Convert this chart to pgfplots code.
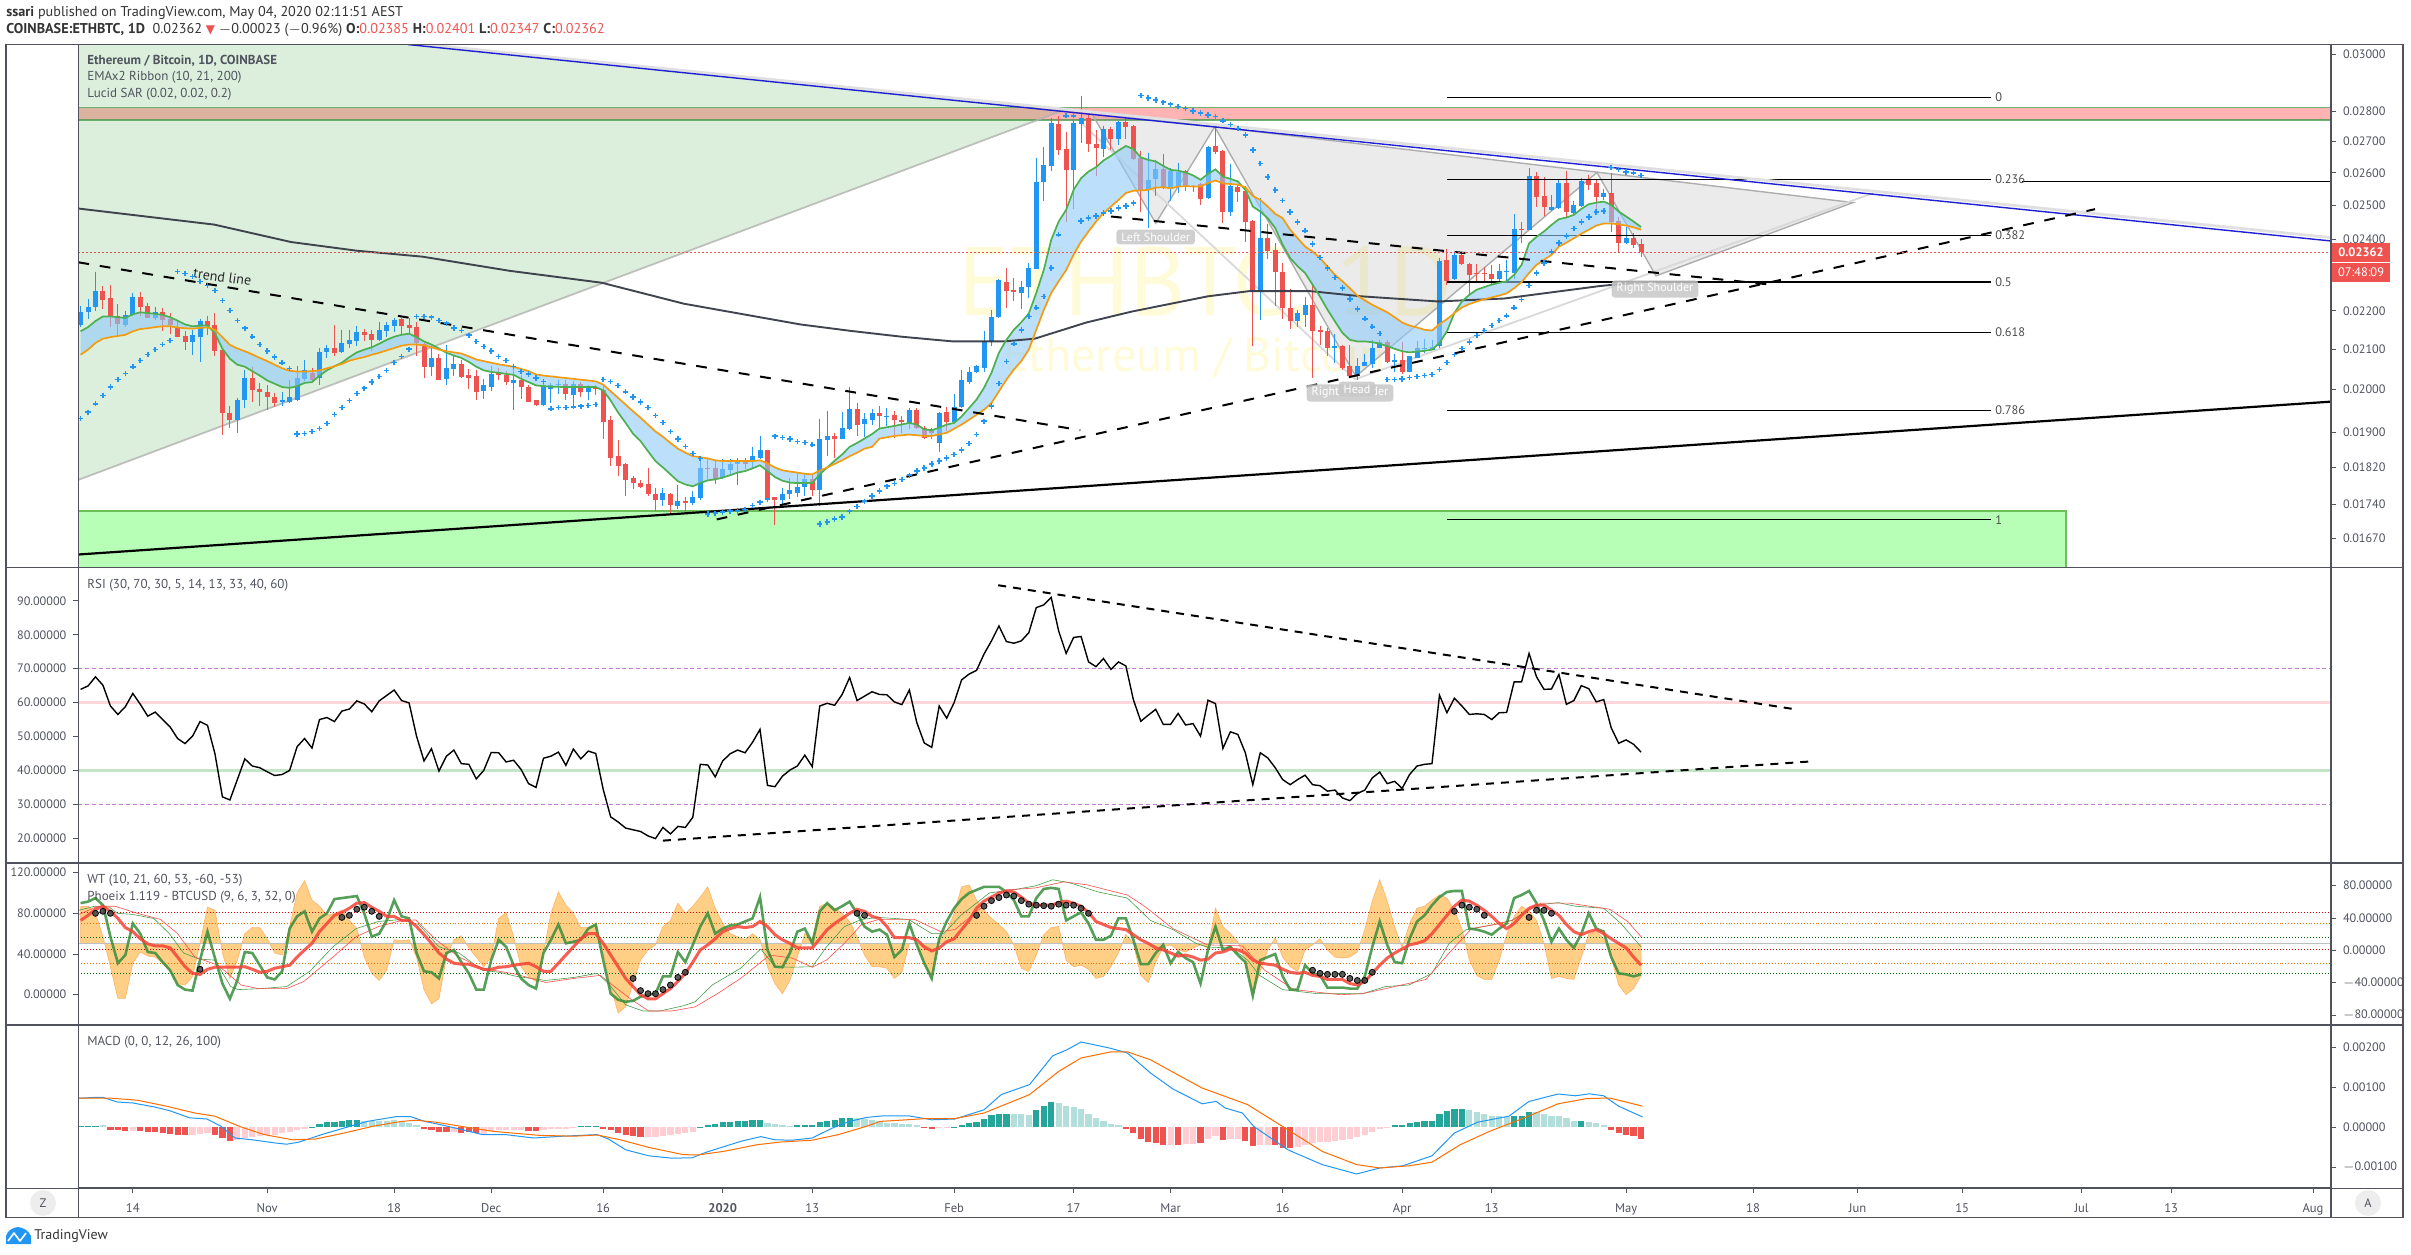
\documentclass[border=0pt]{standalone}
\usepackage{pgfplots}
\usepackage{pgfplotstable}
\usepackage{fontspec}
\pgfplotsset{compat=1.18}
\setmainfont{PT Sans}
\newfontfamily\dejavu{DejaVu Sans}
\definecolor{cUp}{HTML}{2196F3}
\definecolor{cDn}{HTML}{EF5350}
\definecolor{cFrame}{HTML}{50535E}
\definecolor{cTxt}{HTML}{50535E}
\definecolor{cGreen}{HTML}{4CAF50}
\definecolor{cOrange}{HTML}{F39C12}
\definecolor{cDark}{HTML}{363A45}
\definecolor{cTeal}{HTML}{26A69A}
\definecolor{cLTeal}{HTML}{B2DFDB}
\definecolor{cPink}{HTML}{FFCDD2}
\definecolor{cWM}{HTML}{FFFBD8}
\definecolor{cAmber}{HTML}{FFCC80}
\definecolor{cZoneR}{HTML}{FFB3B3}
\definecolor{cZoneG}{HTML}{B7FFB7}
\definecolor{cZoneGE}{HTML}{6EBF5A}
\definecolor{cRib}{HTML}{90CAF9}
\definecolor{cBlueLn}{HTML}{1E1ED2}
\definecolor{cDot}{HTML}{EF5350}
\definecolor{cRsiR}{HTML}{FFCDD2}
\definecolor{cRsiG}{HTML}{A5D6A7}
\definecolor{cRsiP}{HTML}{C37DD7}
\definecolor{cWtG}{HTML}{388E3C}
\definecolor{cWtR}{HTML}{F44336}
\definecolor{cSig}{HTML}{FF6D00}
\pgfplotstableread[row sep=\\]{d o h l c\\
-7 2163 2212 2157 2198\\ -6 2198 2232 2179 2211\\ -5 2209 2306 2200 2252\\ -1 2163 2200 2158 2190\\ 0 2190 2248 2185 2238\\ 3 2182 2210 2176 2197\\ 8 2119 2150 2086 2137\\ 9 2132 2179 2067 2173\\
14 1928 1980 1898 1976\\ 15 1974 2047 1957 2029\\ 20 1970 1994 1962 1974\\ 21 1971 2024 1969 1981\\ 22 1976 2058 1973 2029\\ 23 2026 2074 2021 2049\\ 25 2027 2102 2012 2094\\ 26 2092 2112 2078 2102\\ 28 2092 2150 2090 2117\\ 29 2114 2150 2104 2124\\ 30 2122 2160 2109 2145\\ 33 2124 2171 2122 2150\\ 34 2147 2171 2132 2163\\ 35 2160 2180 2145 2176\\ 40 2056 2111 2034 2079\\ 42 2026 2111 2012 2054\\ 43 2051 2082 2034 2064\\
47 1996 2026 1978 2010\\ 48 2007 2057 1996 2039\\ 51 2017 2062 1952 2024\\ 55 1964 2016 1962 2012\\ 56 2002 2016 1968 2010\\ 57 2010 2024 1990 2014\\ 59 1988 2020 1964 2014\\ 61 1995 2012 1974 2005\\ 71 1749 1776 1737 1764\\ 73 1737 1781 1730 1747\\ 75 1743 1768 1740 1755\\ 76 1753 1842 1749 1820\\ 79 1798 1838 1794 1816\\ 80 1814 1838 1803 1827\\ 81 1827 1842 1781 1834\\ 83 1834 1866 1816 1845\\ 84 1842 1890 1838 1860\\ 87 1749 1776 1732 1762\\ 88 1762 1796 1751 1772\\ 89 1765 1809 1755 1778\\ 90 1778 1809 1758 1794\\ 92 1772 1931 1738 1883\\ 93 1881 1948 1845 1890\\ 95 1885 1946 1883 1910\\ 96 1907 2005 1905 1954\\ 98 1919 1943 1888 1931\\ 99 1929 1954 1917 1943\\
101 1934 1956 1914 1936\\ 104 1921 1956 1906 1952\\ 108 1875 1946 1855 1944\\ 110 1924 1990 1923 1959\\ 111 1958 2047 1956 2024\\ 112 2018 2056 2014 2044\\ 113 2042 2061 2041 2058\\ 114 2054 2148 2043 2122\\ 115 2119 2202 2107 2184\\ 116 2184 2285 2181 2283\\ 119 2249 2282 2205 2265\\ 120 2265 2331 2235 2317\\ 121 2314 2648 2314 2572\\ 122 2572 2683 2513 2625\\ 123 2622 2778 2606 2763\\ 126 2609 2775 2489 2763\\ 127 2758 2855 2696 2778\\ 130 2677 2752 2651 2742\\ 132 2709 2768 2689 2765\\ 136 2548 2664 2433 2578\\ 137 2581 2641 2529 2612\\ 139 2550 2614 2513 2606\\ 140 2558 2632 2538 2603\\ 142 2556 2563 2539 2560\\ 144 2522 2686 2519 2683\\ 147 2480 2629 2468 2560\\ 151 2254 2522 2176 2403\\
156 2174 2203 2158 2195\\ 157 2190 2238 2158 2216\\ 161 2103 2138 2066 2107\\ 164 2034 2077 2024 2057\\ 165 2057 2089 2058 2067\\ 166 2064 2124 2054 2104\\ 167 2102 2124 2102 2119\\ 169 2067 2087 2042 2074\\ 171 2044 2083 2042 2082\\ 172 2079 2122 2078 2102\\ 173 2102 2127 2091 2104\\ 174 2099 2124 2097 2106\\ 175 2108 2345 2102 2337\\ 177 2285 2359 2283 2354\\ 183 2285 2329 2282 2309\\ 184 2306 2340 2279 2309\\ 185 2303 2474 2285 2430\\ 187 2427 2616 2427 2591\\ 190 2486 2531 2483 2495\\ 191 2492 2578 2488 2569\\ 193 2477 2513 2474 2501\\ 194 2498 2584 2495 2575\\ 197 2525 2550 2516 2538\\ 200 2388 2436 2385 2403\\
}\tUp
\pgfplotstableread[row sep=\\]{d o h l c\\
-4 2252 2266 2205 2230\\ -3 2235 2270 2158 2185\\ -2 2187 2217 2134 2164\\ 1 2238 2251 2185 2211\\ 2 2214 2221 2181 2182\\ 4 2198 2207 2147 2176\\ 5 2177 2194 2140 2162\\ 6 2158 2172 2131 2132\\ 7 2134 2147 2099 2119\\ 10 2173 2187 2137 2161\\ 11 2163 2194 2084 2095\\ 12 2099 2101 1892 1943\\ 13 1945 1961 1910 1929\\ 16 2029 2056 1970 2000\\ 17 2002 2016 1962 1995\\ 18 1995 2010 1952 1981\\ 19 1983 1992 1959 1969\\ 24 2040 2054 2020 2024\\ 27 2102 2163 2082 2090\\ 31 2145 2152 2122 2137\\ 32 2140 2150 2095 2124\\ 36 2179 2180 2140 2160\\ 37 2163 2180 2141 2155\\ 38 2158 2170 2084 2116\\ 39 2114 2116 2029 2056\\ 41 2079 2089 2023 2024\\ 44 2064 2074 2029 2031\\ 45 2036 2051 2002 2029\\ 46 2034 2049 1974 1995\\
49 2044 2053 2022 2036\\ 50 2036 2045 2011 2019\\ 52 2024 2036 1978 2005\\ 53 2007 2010 1970 1971\\ 54 1974 1976 1962 1964\\ 58 2014 2022 1976 1990\\ 60 2014 2019 1981 1995\\ 62 2005 2012 1988 2002\\ 63 2000 2008 1885 1924\\ 64 1929 1936 1823 1842\\ 65 1845 1881 1801 1823\\ 66 1827 1829 1758 1792\\ 67 1796 1801 1774 1787\\ 68 1787 1792 1776 1778\\ 69 1783 1820 1758 1762\\ 70 1762 1776 1727 1749\\ 72 1762 1764 1718 1739\\ 74 1747 1755 1726 1744\\ 77 1820 1842 1794 1816\\ 78 1820 1834 1785 1794\\ 82 1834 1840 1816 1827\\ 85 1860 1860 1752 1752\\ 86 1755 1755 1697 1749\\ 91 1794 1805 1758 1772\\ 94 1890 1898 1842 1885\\ 97 1954 1969 1890 1917\\
100 1944 1960 1906 1936\\ 102 1940 1948 1887 1927\\ 103 1929 1936 1898 1923\\ 105 1950 1956 1906 1910\\ 106 1910 1914 1883 1887\\ 107 1904 1910 1884 1898\\ 109 1946 1958 1902 1924\\ 117 2279 2317 2208 2254\\ 118 2257 2290 2226 2250\\ 124 2758 2785 2657 2673\\ 125 2677 2732 2450 2609\\ 128 2778 2792 2667 2692\\ 129 2692 2738 2590 2680\\ 131 2742 2749 2673 2709\\ 133 2765 2778 2707 2749\\ 134 2752 2756 2641 2643\\ 135 2646 2670 2480 2546\\ 138 2612 2661 2550 2553\\ 141 2606 2609 2542 2558\\ 143 2566 2568 2501 2519\\ 145 2686 2752 2661 2667\\ 146 2670 2673 2447 2480\\ 148 2557 2566 2510 2541\\ 149 2544 2558 2391 2450\\ 150 2453 2456 2107 2257\\ 152 2403 2444 2342 2366\\ 153 2369 2387 2214 2306\\
154 2306 2330 2179 2208\\ 155 2208 2259 2153 2174\\ 158 2216 2274 2029 2148\\ 159 2150 2161 2112 2144\\ 160 2148 2155 2082 2102\\ 162 2107 2112 2049 2052\\ 163 2057 2112 2030 2034\\ 168 2119 2124 2066 2067\\ 170 2074 2119 2039 2044\\ 176 2340 2372 2271 2282\\ 178 2354 2360 2324 2329\\ 179 2329 2332 2246 2298\\ 180 2303 2329 2274 2300\\ 181 2303 2320 2276 2300\\ 182 2300 2326 2266 2285\\ 186 2430 2450 2388 2427\\ 188 2591 2603 2495 2525\\ 189 2528 2587 2468 2495\\ 192 2569 2606 2465 2480\\ 195 2578 2594 2547 2563\\ 196 2569 2578 2480 2525\\ 198 2538 2600 2421 2450\\ 199 2453 2464 2363 2388\\ 201 2403 2417 2375 2383\\ 202 2385 2401 2347 2362\\
}\tDn
\pgfplotstableread[row sep=\\]{d y\\
-7 2146\\ -6 2157\\ -5 2173\\ -4 2185\\ -3 2185\\ -2 2183\\ -1 2181\\ 0 2191\\ 1 2196\\ 2 2194\\ 3 2192\\ 4 2189\\ 5 2183\\ 6 2174\\ 7 2164\\ 8 2159\\ 9 2161\\ 10 2161\\ 11 2141\\ 12 2101\\ 13 2076\\ 14 2061\\ 15 2056\\ 16 2045\\ 17 2034\\ 18 2022\\ 19 2014\\ 20 2006\\ 21 2004\\ 22 2008\\ 23 2016\\ 24 2018\\ 25 2034\\ 26 2047\\ 27 2057\\ 28 2066\\ 29 2080\\ 30 2092\\ 31 2099\\ 32 2105\\ 33 2114\\ 34 2124\\ 35 2132\\ 36 2137\\ 37 2140\\ 38 2131\\ 39 2120\\ 40 2112\\ 41 2102\\ 42 2091\\ 43 2084\\ 44 2078\\ 45 2068\\ 46 2056\\
47 2047\\ 48 2043\\ 49 2041\\ 50 2038\\ 51 2036\\ 52 2026\\ 53 2018\\ 54 2010\\ 55 2008\\ 56 2007\\ 58 2006\\ 60 2006\\ 62 2006\\ 63 1998\\ 64 1974\\ 65 1945\\ 66 1921\\ 67 1896\\ 68 1879\\ 69 1856\\ 70 1834\\ 71 1820\\ 72 1805\\ 73 1790\\ 74 1783\\ 75 1779\\ 76 1786\\ 77 1792\\ 78 1794\\ 79 1798\\ 80 1803\\ 81 1809\\ 82 1812\\ 83 1818\\ 84 1825\\ 85 1812\\ 86 1799\\ 87 1791\\ 88 1787\\ 89 1786\\ 90 1786\\ 91 1786\\ 92 1805\\ 93 1820\\ 94 1835\\ 95 1849\\ 96 1866\\ 97 1875\\ 98 1885\\ 99 1895\\
100 1908\\ 102 1914\\ 104 1921\\ 105 1917\\ 106 1906\\ 107 1904\\ 108 1910\\ 109 1917\\ 110 1921\\ 111 1936\\ 112 1956\\ 113 1976\\ 114 2004\\ 115 2041\\ 116 2091\\ 117 2124\\ 118 2150\\ 119 2170\\ 120 2193\\ 121 2248\\ 122 2311\\ 123 2397\\ 124 2451\\ 125 2486\\ 126 2547\\ 127 2583\\ 128 2604\\ 129 2618\\ 130 2639\\ 131 2654\\ 132 2671\\ 133 2686\\ 134 2676\\ 135 2649\\ 136 2641\\ 137 2636\\ 138 2622\\ 139 2609\\ 140 2607\\ 141 2601\\ 142 2592\\ 143 2578\\ 144 2597\\ 145 2611\\ 146 2588\\ 147 2581\\ 148 2573\\ 149 2547\\ 150 2496\\ 151 2481\\ 152 2461\\ 153 2432\\
154 2383\\ 155 2345\\ 156 2322\\ 157 2303\\ 158 2271\\ 159 2238\\ 160 2203\\ 161 2172\\ 162 2142\\ 163 2124\\ 164 2120\\ 165 2120\\ 166 2118\\ 167 2114\\ 168 2108\\ 169 2101\\ 170 2095\\ 171 2092\\ 172 2094\\ 173 2096\\ 174 2099\\ 175 2116\\ 176 2146\\ 177 2194\\ 178 2225\\ 179 2243\\ 180 2257\\ 181 2264\\ 182 2271\\ 183 2276\\ 184 2280\\ 185 2298\\ 186 2326\\ 187 2387\\ 188 2406\\ 189 2422\\ 190 2441\\ 191 2458\\ 192 2463\\ 193 2471\\ 194 2489\\ 195 2503\\ 196 2508\\ 197 2511\\ 198 2501\\ 199 2481\\ 200 2466\\ 201 2451\\ 202 2435\\
}\tEmaFast
\pgfplotstableread[row sep=\\]{d y\\
-7 2086\\ -6 2099\\ -5 2116\\ -4 2127\\ -3 2131\\ -2 2134\\ -1 2137\\ 0 2146\\ 1 2152\\ 2 2154\\ 3 2157\\ 4 2159\\ 5 2159\\ 6 2156\\ 7 2154\\ 8 2153\\ 9 2155\\ 10 2156\\ 11 2150\\ 12 2131\\ 13 2111\\ 14 2102\\ 15 2095\\ 16 2087\\ 17 2078\\ 18 2070\\ 19 2061\\ 20 2052\\ 21 2046\\ 22 2044\\ 23 2044\\ 24 2045\\ 25 2047\\ 26 2052\\ 27 2057\\ 28 2063\\ 29 2071\\ 30 2076\\ 31 2080\\ 32 2086\\ 33 2091\\ 34 2097\\ 35 2103\\ 36 2109\\ 37 2112\\ 38 2112\\ 39 2110\\ 40 2105\\ 41 2099\\ 42 2095\\ 43 2092\\ 44 2089\\ 45 2082\\ 46 2074\\
47 2070\\ 49 2062\\ 51 2056\\ 53 2045\\ 54 2037\\ 55 2034\\ 57 2030\\ 59 2026\\ 61 2022\\ 62 2020\\ 63 2012\\ 64 1996\\ 65 1980\\ 66 1964\\ 67 1948\\ 68 1933\\ 69 1917\\ 70 1901\\ 71 1889\\ 72 1875\\ 73 1862\\ 74 1853\\ 75 1845\\ 76 1843\\ 77 1840\\ 78 1836\\ 79 1834\\ 81 1834\\ 83 1834\\ 84 1836\\ 85 1829\\ 86 1820\\ 87 1814\\ 88 1811\\ 89 1809\\ 90 1806\\ 91 1805\\ 92 1813\\ 93 1820\\ 94 1828\\ 95 1836\\ 96 1845\\ 97 1853\\ 98 1862\\ 99 1866\\
100 1885\\ 102 1891\\ 104 1894\\ 106 1891\\ 107 1891\\ 109 1898\\ 111 1917\\ 113 1940\\ 114 1952\\ 115 1968\\ 116 1996\\ 117 2024\\ 118 2049\\ 119 2070\\ 120 2099\\ 121 2150\\ 122 2202\\ 123 2248\\ 124 2280\\ 125 2311\\ 126 2355\\ 127 2392\\ 128 2422\\ 129 2451\\ 130 2476\\ 131 2496\\ 132 2516\\ 133 2537\\ 134 2544\\ 135 2545\\ 136 2547\\ 137 2554\\ 138 2555\\ 139 2552\\ 140 2557\\ 141 2558\\ 143 2557\\ 144 2568\\ 145 2576\\ 146 2567\\ 147 2565\\ 148 2563\\ 149 2555\\ 150 2528\\ 151 2516\\ 152 2496\\ 153 2474\\
154 2461\\ 155 2427\\ 156 2402\\ 157 2378\\ 158 2364\\ 159 2345\\ 160 2321\\ 161 2298\\ 162 2280\\ 163 2261\\ 164 2241\\ 165 2228\\ 166 2216\\ 167 2206\\ 168 2196\\ 169 2183\\ 170 2169\\ 171 2161\\ 172 2156\\ 173 2150\\ 174 2148\\ 175 2165\\ 176 2178\\ 177 2194\\ 178 2209\\ 179 2218\\ 180 2225\\ 181 2231\\ 182 2236\\ 183 2241\\ 184 2247\\ 185 2261\\ 186 2278\\ 187 2303\\ 188 2326\\ 189 2340\\ 190 2354\\ 191 2378\\ 192 2389\\ 193 2402\\ 194 2415\\ 195 2427\\ 196 2439\\ 197 2445\\ 198 2445\\ 199 2443\\ 200 2439\\ 201 2434\\ 202 2427\\
}\tEmaSlow
\pgfplotstablesort[sort key=d, sort cmp=float >]{\tSlowBack}{\tEmaSlow}
\pgfplotstablevertcat{\tRibbon}{\tEmaFast}
\pgfplotstablevertcat{\tRibbon}{\tSlowBack}
\pgfplotstableread[row sep=\\]{d y\\
-7.3 2490\\ 10.9 2442\\ 21.2 2391\\ 30 2366\\ 38.8 2349\\ 50.5 2309\\ 62.8 2276\\ 73.8 2219\\ 89.4 2164\\ 96.2 2147\\ 103 2132\\ 109.8 2120\\ 116.7 2120\\ 120.8 2127\\ 127.7 2169\\ 133.8 2198\\ 144 2239\\ 149.5 2253\\ 157.7 2253\\ 164.5 2239\\ 174.8 2225\\ 183.7 2233\\ 196.5 2267\\ 202 2278\\
}\tEmaLong
\pgfplotstableread[row sep=\\]{d y\\
-7 1931\\ -6 1946\\ -5 1966\\ -4 1986\\ -3 2006\\ -2 2024\\ -1 2039\\ 0 2056\\ 1 2072\\ 2 2087\\ 3 2099\\ 4 2112\\ 5 2122\\ 6 2307\\ 7 2302\\ 8 2293\\ 9 2279\\ 10 2268\\ 11 2255\\ 12 2228\\ 13 2201\\ 14 2174\\ 15 2154\\ 16 2132\\ 17 2112\\ 18 2095\\ 19 2080\\ 20 2066\\ 21 2052\\ 22 1895\\ 23 1897\\ 24 1901\\ 25 1908\\ 26 1920\\ 27 1941\\ 28 1957\\ 29 1974\\ 30 1991\\ 31 2003\\ 32 2018\\ 33 2032\\ 34 2047\\ 35 2067\\ 36 2082\\ 37 2100\\ 38 2185\\ 39 2185\\ 40 2183\\ 41 2174\\ 42 2167\\ 43 2155\\ 44 2148\\ 45 2136\\ 46 2120\\ 47 2107\\ 48 2095\\ 49 2082\\ 50 2072\\ 51 2057\\ 52 2044\\ 53 2038\\ 54 2028\\ 55 2020\\ 56 1954\\ 57 1957\\ 58 1957\\ 59 1959\\ 60 1960\\ 61 1962\\ 62 1964\\ 63 2024\\ 64 2020\\ 65 2010\\ 66 1995\\ 67 1982\\ 68 1970\\ 69 1957\\ 70 1938\\ 71 1922\\ 72 1901\\ 73 1884\\ 74 1867\\ 75 1851\\ 76 1840\\ 77 1720\\ 78 1722\\ 79 1724\\ 80 1726\\ 81 1727\\ 82 1730\\ 83 1738\\ 84 1745\\ 85 1752\\ 86 1890\\ 87 1887\\ 88 1884\\ 89 1878\\ 90 1876\\ 91 1871\\ 92 1700\\ 93 1704\\ 94 1710\\ 95 1714\\ 96 1726\\ 97 1736\\ 98 1747\\ 99 1758\\
100 1769\\ 101 1779\\ 102 1785\\ 103 1794\\ 104 1803\\ 105 1812\\ 106 1819\\ 107 1828\\ 108 1834\\ 109 1841\\ 110 1849\\ 111 1859\\ 112 1874\\ 113 1894\\ 114 1925\\ 115 1961\\ 116 2015\\ 117 2069\\ 118 2114\\ 119 2150\\ 120 2185\\ 121 2208\\ 122 2238\\ 123 2317\\ 124 2412\\ 125 2786\\ 126 2786\\ 127 2453\\ 128 2462\\ 129 2468\\ 130 2476\\ 131 2483\\ 132 2492\\ 133 2498\\ 134 2507\\ 135 2855\\ 136 2846\\ 137 2839\\ 138 2832\\ 139 2825\\ 140 2817\\ 141 2810\\ 142 2802\\ 143 2796\\ 144 2789\\ 145 2783\\ 146 2769\\ 147 2756\\ 148 2743\\ 149 2722\\ 150 2673\\ 151 2629\\ 152 2587\\ 153 2547\\ 154 2514\\ 155 2480\\ 156 2450\\ 157 2424\\ 158 2385\\ 159 2347\\ 160 2317\\ 161 2290\\ 162 2262\\ 163 2232\\ 164 2205\\ 165 2179\\ 166 2158\\ 167 2140\\ 168 2024\\ 169 2024\\ 170 2026\\ 171 2029\\ 172 2032\\ 173 2034\\ 174 2037\\ 175 2049\\ 176 2067\\ 177 2087\\ 178 2102\\ 179 2119\\ 180 2135\\ 181 2148\\ 182 2161\\ 183 2174\\ 184 2187\\ 185 2208\\ 186 2230\\ 187 2268\\ 188 2303\\ 189 2331\\ 190 2363\\ 191 2388\\ 192 2409\\ 193 2430\\ 194 2450\\ 195 2465\\ 196 2480\\ 197 2483\\ 198 2617\\ 199 2610\\ 200 2603\\ 201 2600\\ 202 2591\\
}\tSar
\pgfplotstableread[row sep=\\]{d y\\
-7 63.9\\ -6 64.9\\ -5 67.6\\ -4 65.1\\ -3 59\\ -2 56.5\\ -1 58.8\\ 0 62.7\\ 1 59.5\\ 2 56\\ 3 57.2\\ 4 55\\ 5 52.8\\ 6 49.4\\ 7 47.9\\ 8 50.1\\ 9 54.4\\ 10 53.3\\ 11 44.9\\ 12 32.2\\ 13 31.3\\ 14 37.3\\ 15 43.4\\ 16 41.3\\ 17 40.8\\ 18 39.6\\ 19 38.5\\ 20 38.8\\ 21 40\\ 22 47\\ 23 49.4\\ 24 46.6\\ 25 55\\ 26 55.6\\ 27 54.4\\ 28 57.5\\ 29 58.1\\ 30 60.5\\ 31 59.6\\ 32 57.3\\ 33 60.5\\ 34 62.1\\ 35 63.7\\ 36 60.6\\ 37 59.9\\ 38 50.1\\ 39 42.8\\ 40 46.4\\ 41 39.8\\ 42 44.2\\ 43 46\\ 44 42\\ 45 41.8\\ 46 37.5\\ 47 40\\ 48 45.3\\ 49 45.2\\ 50 42.5\\ 51 43\\ 52 40.3\\ 53 36.1\\ 54 35\\ 55 43.6\\ 56 44.2\\ 57 45.4\\ 58 41.5\\ 59 46.3\\ 60 43.4\\ 61 45.7\\ 62 45\\ 63 34.4\\ 64 26.3\\ 65 24.8\\ 66 23\\ 67 22.5\\ 68 22\\ 69 20.7\\ 70 19.9\\ 71 23.2\\ 72 21.3\\ 73 23.5\\ 74 23.2\\ 75 26.2\\ 76 41.8\\ 77 41.6\\ 78 38.1\\ 79 42.8\\ 80 44.9\\ 81 46\\ 82 45.2\\ 83 48.3\\ 84 52.1\\ 85 35.6\\ 86 35.2\\ 87 38.3\\ 88 40.1\\ 89 41.3\\ 90 44.5\\ 91 41.1\\ 92 59\\ 93 59.8\\ 94 59.2\\ 95 62.4\\ 96 67.4\\ 97 60.6\\ 98 61.9\\ 99 63.2\\ 100 62.4\\ 101 62.3\\ 102 60.2\\ 103 59.4\\ 104 63.7\\ 105 54.1\\ 106 48.1\\ 107 46.8\\ 108 59\\ 109 55.4\\ 110 60\\ 111 66.7\\ 112 68.4\\ 113 69.5\\ 114 74.3\\ 115 78.2\\ 116 82.6\\
117 78\\ 118 77.5\\ 119 78.2\\ 120 80.6\\ 121 88\\ 122 88.8\\ 123 91\\ 124 81.1\\ 125 74.5\\ 126 79.2\\ 127 79.5\\ 128 72\\ 129 70.6\\ 130 73\\ 131 69.8\\ 132 72\\ 133 70.8\\ 134 60.9\\ 135 54.5\\ 136 56.3\\ 137 58\\ 138 53.6\\ 139 53.6\\ 140 56.8\\ 141 53.4\\ 142 53.8\\ 143 50.1\\ 144 60.7\\ 145 59.7\\ 146 46.5\\ 147 51.4\\ 148 50.6\\ 149 45.2\\ 150 35.8\\ 151 45.2\\ 152 43.7\\ 153 40.8\\ 154 37.3\\ 155 35.8\\ 156 37.3\\ 157 38.6\\ 158 35.8\\ 159 35.5\\ 160 33.9\\ 161 34.2\\ 162 31.9\\ 163 31.1\\ 164 33.2\\ 165 34.2\\ 166 37.8\\ 167 39.5\\ 168 36.1\\ 169 36.8\\ 170 34.7\\ 171 38.8\\ 172 41.3\\ 173 41.8\\ 174 42\\ 175 62.2\\ 176 57\\ 177 61.3\\ 178 59\\ 179 56.5\\ 180 56.7\\ 181 56.5\\ 182 55\\ 183 57\\ 184 57.1\\ 185 66.1\\ 186 66.1\\ 187 74.5\\ 188 67.6\\ 189 63.9\\ 190 64\\ 191 68.3\\ 192 59.5\\ 193 60.6\\ 194 65\\ 195 64.1\\ 196 60.2\\ 197 60.9\\ 198 52.6\\ 199 48\\ 200 49\\ 201 47.7\\ 202 45.4\\
}\tRsi
\pgfplotstableread[row sep=\\]{d y\\
-7 50.3\\ -7 86.6\\ -6 87\\ -5 80\\ -4 57\\ -3 27.5\\ -2 -3.6\\ -1 -3.6\\ 0 31\\ 1 42\\ 2 38\\ 3 37\\ 4 31\\ 5 23\\ 6 11\\ 7 9.5\\ 8 18\\ 9 50.5\\ 10 86\\ 11 83\\ 12 41\\ 13 16\\ 14 34\\ 15 60\\ 16 66\\ 17 66\\ 18 55\\ 19 41\\ 20 39\\ 21 67\\ 22 100\\ 23 112\\ 24 93\\ 25 87\\ 26 78\\ 27 80\\ 28 83\\ 29 73\\ 30 65\\ 31 37\\ 32 21\\ 33 14\\ 34 24\\ 35 54\\ 36 53\\ 37 54\\ 38 37\\ 39 5\\ 40 -9\\ 41 -4\\ 42 37\\ 43 54\\ 44 58\\ 45 46\\ 46 37\\ 47 27.5\\ 48 37\\ 49 75\\ 50 81\\ 51 57\\ 52 27.5\\ 53 18\\ 54 13\\ 55 41\\ 56 80\\ 57 101\\ 58 88\\ 59 80\\ 60 66\\ 61 66\\ 62 69\\ 63 41\\ 64 8\\ 65 -18\\ 66 -12\\ 67 11\\ 68 34\\ 69 44\\ 70 49\\ 71 67\\ 72 73\\ 73 90\\ 74 80\\ 75 87\\ 76 96\\ 77 106\\ 78 85\\ 79 70\\ 80 60\\ 81 57\\ 82 54\\ 83 60\\ 84 54\\ 85 27.5\\ 86 11\\ 87 1\\ 88 14\\ 89 37\\ 90 60\\ 91 54\\ 92 87\\ 93 90\\ 94 85\\ 95 80\\ 96 72\\ 97 57\\ 98 39\\ 99 27.5\\ 100 27.5\\ 101 26\\ 102 16\\ 103 22\\ 104 50.5\\ 105 50.5\\ 106 31\\ 107 16\\ 108 54\\ 109 62\\ 110 80\\ 111 106\\ 112 108\\ 113 93\\ 114 83\\ 115 75\\ 116 69\\ 117 62\\ 118 49\\ 119 26\\ 120 23\\ 121 39\\ 122 59\\ 123 66\\ 124 67\\ 125 34\\ 126 27.5\\ 127 29\\ 128 25\\ 129 16\\ 130 18\\ 131 27.5\\ 132 41\\ 133 59\\ 134 50.5\\ 135 19\\ 136 12\\ 137 32\\ 138 47\\ 139 49\\ 140 44\\ 141 42\\ 142 46\\ 143 49\\ 144 46\\ 145 85\\ 146 67\\ 147 60\\ 148 52\\ 149 34\\ 150 1\\ 151 23\\ 152 44\\ 153 56\\ 154 37\\ 155 27.5\\ 156 23\\ 157 44\\ 158 49\\ 159 55\\ 160 44\\ 161 37\\ 162 36\\ 163 37\\ 164 42\\ 165 64\\ 166 92\\ 167 113\\ 168 92\\ 169 67\\ 170 46\\ 171 70\\ 172 85\\ 173 87\\ 174 93\\ 175 98\\ 176 95\\ 177 83\\ 178 65\\ 179 34\\ 180 19\\ 181 15\\ 182 15\\ 183 34\\ 184 59\\ 185 77\\ 186 87\\ 187 82\\ 188 73\\ 189 50.5\\ 190 16\\ 191 18\\ 192 16\\ 193 15\\ 194 37\\ 195 60\\ 196 62\\ 197 55\\ 198 37\\ 199 9.5\\ 200 0\\ 201 6\\ 202 19\\ 202 50.3\\
}\tArea
\pgfplotstableread[row sep=\\]{d y\\
-7 90\\ -6 91.5\\ -5 95\\ -4 88\\ -3 57\\ -2 31\\ -1 39\\ 0 70\\ 1 60\\ 2 42\\ 3 41\\ 4 32\\ 5 24\\ 6 9.5\\ 7 5\\ 8 4\\ 9 34\\ 10 62\\ 11 36\\ 12 11\\ 13 -4\\ 14 14\\ 15 42\\ 16 41\\ 17 29\\ 18 17\\ 19 15\\ 20 23\\ 21 65\\ 22 77\\ 23 82\\ 24 62\\ 25 75\\ 26 80\\ 27 94\\ 28 95\\ 29 96\\ 30 97\\ 31 80\\ 32 57\\ 33 60\\ 34 73\\ 35 93\\ 36 77\\ 37 75\\ 38 41\\ 39 23\\ 40 22\\ 41 16\\ 42 41\\ 43 44\\ 44 32\\ 45 21\\ 46 5\\ 47 5\\ 48 34\\ 49 54\\ 50 47\\ 51 29\\ 52 16\\ 53 9.5\\ 54 6\\ 55 41\\ 56 54\\ 57 69\\ 58 50.5\\ 59 52\\ 60 54\\ 61 65\\ 62 69\\ 63 34\\ 64 1\\ 65 -5\\ 66 -7\\ 67 -6\\ 68 -2\\ 69 0\\ 70 1\\ 71 18\\ 72 18\\ 73 42\\ 74 32\\ 75 49\\ 76 67\\ 77 80\\ 78 60\\ 79 65\\ 80 68\\ 81 69\\ 82 72\\ 83 75\\ 84 96\\ 85 44\\ 86 27.5\\ 87 27\\ 88 41\\ 89 62\\ 90 65\\ 91 50.5\\ 92 82\\ 93 90\\ 94 83\\ 95 87\\ 96 91.5\\ 97 80\\ 98 67\\ 99 62\\ 100 64\\ 101 59\\ 102 37\\ 103 44\\ 104 70\\ 105 49\\ 106 31\\ 107 16\\ 108 55\\ 109 72\\ 110 85\\ 111 94\\ 112 100\\ 113 103\\ 114 106\\ 115 106\\ 116 106\\ 117 101\\ 118 93\\ 119 77\\ 120 77\\ 121 95\\ 122 104\\ 123 105\\ 124 104\\ 125 73\\ 126 77\\ 127 81\\ 128 70\\ 129 54\\ 130 54\\ 131 58\\ 132 75\\ 133 75\\ 134 54\\ 135 30\\ 136 30\\ 137 41\\ 138 49\\ 139 31\\ 140 42\\ 141 36\\ 142 32\\ 143 11\\ 144 44\\ 145 67\\ 146 44\\ 147 47\\ 148 39\\ 149 32\\ 150 -1\\ 151 34\\ 152 37\\ 153 40\\ 154 18\\ 155 5\\ 156 5\\ 157 29\\ 158 21\\ 159 19\\ 160 7\\ 161 7\\ 162 7\\ 163 6\\ 164 6\\ 165 18\\ 166 47\\ 167 72\\ 168 49\\ 169 32\\ 170 31\\ 171 55\\ 172 72\\ 173 78\\ 174 88\\ 175 96\\ 176 101\\ 177 102\\ 178 102\\ 179 65\\ 180 64\\ 181 62\\ 182 59\\ 183 65\\ 184 70\\ 185 95\\ 186 98\\ 187 102\\ 188 90\\ 189 73\\ 190 52\\ 191 65\\ 192 54\\ 193 46\\ 194 60\\ 195 80\\ 196 65\\ 197 62\\ 198 37\\ 199 21\\ 200 20\\ 201 18\\ 202 20\\
}\tWtFast
\pgfplotstableread[row sep=\\]{d y\\
-7 73\\ -6 78\\ -5 84\\ -4 87\\ -3 82\\ -2 75\\ -1 66\\ 0 62\\ 1 55\\ 2 50\\ 3 48\\ 4 48\\ 5 46\\ 6 37\\ 7 27.5\\ 8 21\\ 9 20\\ 10 25\\ 11 27\\ 12 27\\ 13 27\\ 14 27\\ 15 27.5\\ 16 25\\ 17 22\\ 18 23\\ 19 26\\ 20 27.5\\ 21 29\\ 22 37\\ 23 44\\ 24 50.5\\ 25 62\\ 26 70\\ 27 78\\ 28 81\\ 29 85\\ 30 90\\ 31 90.5\\ 32 86\\ 33 82\\ 34 77\\ 35 77\\ 36 73\\ 37 73\\ 38 67\\ 39 59\\ 40 50.5\\ 41 41\\ 42 35\\ 43 31\\ 44 30\\ 45 30\\ 46 27.5\\ 47 25\\ 48 25\\ 49 27\\ 50 27.5\\ 51 29\\ 52 30\\ 53 31\\ 54 27.5\\ 55 23\\ 56 23\\ 57 31\\ 58 39\\ 59 47\\ 60 55\\ 61 60\\ 62 60\\ 63 50.5\\ 64 39\\ 65 27.5\\ 66 16\\ 67 8\\ 68 0\\ 69 -4\\ 70 -4\\ 71 1\\ 72 6\\ 73 13\\ 74 21\\ 75 32\\ 76 44\\ 77 49\\ 78 55\\ 79 62\\ 80 65\\ 81 67\\ 82 66\\ 83 67\\ 84 72\\ 85 67\\ 86 59\\ 87 54\\ 88 50.5\\ 89 46\\ 90 46\\ 91 46\\ 92 55\\ 93 64\\ 94 70\\ 95 75\\ 96 80\\ 97 84\\ 98 82\\ 99 77\\ 100 75\\ 101 67\\ 102 56\\ 103 56\\ 104 56\\ 105 54\\ 106 47\\ 107 43\\ 108 46\\ 109 52\\ 110 55\\ 111 64\\ 112 73\\ 113 85\\ 114 92\\ 115 96\\ 116 100\\ 117 102\\ 118 101\\ 119 96\\ 120 90\\ 121 88\\ 122 88\\ 123 88\\ 124 90.5\\ 125 92\\ 126 90\\ 127 87\\ 128 81\\ 129 72\\ 130 69\\ 131 66\\ 132 65\\ 133 64\\ 134 59\\ 135 54\\ 136 50.5\\ 137 46\\ 138 44\\ 139 41\\ 140 38\\ 141 39\\ 142 37\\ 143 34\\ 144 35\\ 145 41\\ 146 42\\ 147 45\\ 148 44\\ 149 41\\ 150 34\\ 151 31\\ 152 30\\ 153 29\\ 154 25\\ 155 22\\ 156 21\\ 157 22\\ 158 19\\ 159 18\\ 160 15\\ 161 15\\ 162 15\\ 163 11\\ 164 9.5\\ 165 13\\ 166 21\\ 167 29\\ 168 36\\ 169 41\\ 170 45\\ 171 49\\ 172 50.5\\ 173 53\\ 174 60\\ 175 69\\ 176 78\\ 177 87\\ 178 93\\ 179 92\\ 180 88\\ 181 83\\ 182 77\\ 183 70\\ 184 65\\ 185 70\\ 186 78\\ 187 85\\ 188 88\\ 189 88\\ 190 83\\ 191 78\\ 192 69\\ 193 62\\ 194 59\\ 195 62\\ 196 64\\ 197 60\\ 198 55\\ 199 50.5\\ 200 46\\ 201 37\\ 202 29\\
}\tWtSlow
\pgfplotstableread[row sep=\\]{d y\\
-7.2 83\\ -5.1 87\\ -3.1 86\\ -2.1 80\\ -0.1 79\\ 2.8 75\\ 4.9 60\\ 6.8 41\\ 8.9 35\\ 11 34\\ 13.1 8\\ 14.1 5\\ 17.2 6\\ 20.6 8\\ 23.7 23\\ 26.8 47\\ 29.9 65\\ 32.9 72\\ 36 74\\ 38.3 69\\ 41 47\\ 43.7 41\\ 46.8 24\\ 49.1 22\\ 51.4 18\\ 55.3 14\\ 59.1 17\\ 62.2 21\\ 63.7 11\\ 66 -10\\ 68.3 -16\\ 70.6 -16\\ 73.7 -11\\ 75.3 -7\\ 77.6 9.5\\ 81.4 26\\ 84.1 45\\ 86 27.5\\ 88.3 27\\ 91 27.5\\ 92.9 47\\ 95.3 67\\ 97.6 74\\ 99.9 76\\ 103.9 74\\ 107 60\\ 108.6 60\\ 110.9 78\\ 114.7 100\\ 118.6 104\\ 120.9 107\\ 123.2 113\\ 125.5 110\\ 129.3 101\\ 133.2 95\\ 136.3 73\\ 139.3 64\\ 142.4 50.5\\ 144.3 46\\ 147 47\\ 149.3 34\\ 150.9 19\\ 154 5\\ 158.6 1\\ 164.7 1\\ 167.8 8\\ 170.9 9.5\\ 174 21\\ 176.3 50.5\\ 178.6 64\\ 181.7 68\\ 184.7 73\\ 187.8 88\\ 190.9 90.5\\ 193.2 87\\ 197 85\\ 199.3 70\\ 202 47\\
}\tThinG
\pgfplotstableread[row sep=\\]{d y\\
-7.2 79\\ -4.7 87\\ -2.4 87\\ 0.6 80\\ 3.7 74\\ 6 60\\ 8.3 37\\ 11.4 29\\ 14.5 9.5\\ 16.8 6\\ 20.6 6\\ 22.9 13\\ 26.8 37\\ 29.9 57\\ 32.9 67\\ 36 73\\ 37.9 73.5\\ 40.6 54\\ 43.7 37\\ 46.8 26\\ 51.4 20\\ 55.3 12\\ 59.1 16\\ 62.6 19\\ 64.5 8\\ 66.8 -5\\ 69.1 -16\\ 72.2 -16\\ 75.3 -12\\ 78.3 1\\ 81.4 16\\ 85.3 39\\ 88.3 36\\ 91 27\\ 92.9 34\\ 95.3 50.5\\ 97.6 69\\ 99.9 74\\ 104.7 74\\ 108.2 62\\ 110.1 64\\ 113.2 83\\ 117 103\\ 120.9 105\\ 124.7 111\\ 127.8 108\\ 133.2 98\\ 135.5 87\\ 139.3 65\\ 143.9 49\\ 148.6 48\\ 151.6 24\\ 155.5 5\\ 161.7 0\\ 164.7 1\\ 167.8 6\\ 173.2 15\\ 176.3 41\\ 179.3 65\\ 182.4 69\\ 184.7 73\\ 188.6 90\\ 192.4 90\\ 197.8 84\\ 200.2 72\\ 202 57\\
}\tThinR
\pgfplotstableread[row sep=\\]{d y\\
-5 80\\ -4 82\\ -3 80\\ 9 25\\ 28 76\\ 29 78\\ 30 84\\ 31 86\\ 32 82\\ 33 77\\ 67 16\\ 68 4\\ 69 1\\ 70 1\\ 71 5\\ 72 9.5\\ 73 17\\ 74 22\\ 97 80\\ 98 78\\ 113 78\\ 114 87\\ 115 92.5\\ 116 95.5\\ 117 98\\ 118 97\\ 119 92.5\\ 120 89\\ 121 88\\ 122 87.5\\ 123 87\\ 124 89\\ 125 88\\ 126 88\\ 127 85\\ 128 80\\ 158 24\\ 159 21\\ 160 20\\ 161 20\\ 162 20\\ 163 16\\ 164 14\\ 165 14\\ 166 22\\ 177 82\\ 178 88\\ 179 86\\ 180 84\\ 181 78\\ 187 76\\ 188 83\\ 189 83\\ 190 80\\
}\tDots
\pgfplotstableread[row sep=\\]{d y\\
-7 2.5\\ -6 2.5\\ -5 3\\ 24 1\\ 25 8\\ 26 12\\ 27 13\\ 28 16\\ 29 18\\ 30 17\\ 60 2\\ 61 2.5\\ 62 3\\ 76 1\\ 77 6\\ 78 8\\ 79 12\\ 80 13\\ 81 14\\ 82 16\\ 83 17.5\\ 84 17.5\\ 89 4\\ 90 6\\ 91 6\\ 92 12.5\\ 93 15\\ 94 18\\ 95 21.5\\ 96 23\\ 110 1\\ 111 5\\ 112 10\\ 113 12.5\\ 114 19\\ 115 29\\ 116 33\\ 117 33\\ 121 43\\ 122 53\\ 123 63\\ 169 4\\ 170 4\\ 171 9\\ 172 12\\ 173 14\\ 174 16\\ 175 33\\ 176 39\\ 177 46\\ 178 46\\ 185 28\\ 186 28\\ 187 38\\ 194 16\\
}\tHa
\pgfplotstableread[row sep=\\]{d y\\
-4 4\\ 31 16\\ 32 16\\ 33 15\\ 34 14\\ 35 17\\ 36 14\\ 37 10\\ 38 5\\ 85 9\\ 86 7.5\\ 87 5\\ 88 2.5\\ 97 23\\ 98 20\\ 99 17\\ 100 14\\ 101 10\\ 102 10\\ 103 8\\ 104 7\\ 105 5\\ 118 33\\ 119 33\\ 120 31\\ 124 61\\ 125 52\\ 126 49\\ 127 45\\ 128 33\\ 129 23\\ 130 14\\ 131 7.5\\ 132 5\\ 179 43\\ 180 38\\ 181 33\\ 182 28\\ 183 27\\ 184 24\\ 188 37\\ 189 33\\ 190 28\\ 191 28\\ 192 21.5\\ 193 16\\ 195 12.5\\ 196 10\\ 197 6\\
}\tHb
\pgfplotstableread[row sep=\\]{d y\\
-3 -7\\ -2 -8\\ -1 -9\\ 1 -11\\ 2 -12\\ 3 -12.5\\ 4 -15\\ 5 -17\\ 6 -19\\ 7 -21\\ 11 -19\\ 12 -28\\ 13 -36\\ 39 -4\\ 40 -7\\ 41 -12.5\\ 42 -13\\ 44 -14\\ 45 -13\\ 46 -15\\ 53 -9\\ 54 -9\\ 63 -4\\ 64 -8\\ 65 -15\\ 66 -20\\ 67 -23\\ 68 -24\\ 106 -3\\ 107 -6\\ 133 -4\\ 134 -15\\ 135 -30\\ 136 -37.5\\ 137 -40\\ 138 -46\\ 140 -44\\ 143 -41\\ 146 -32\\ 149 -34\\ 150 -48\\ 153 -46\\ 154 -52\\ 155 -52\\ 198 -7\\ 199 -16\\ 200 -21\\ 201 -23\\ 202 -29\\
}\tHc
\pgfplotstableread[row sep=\\]{d y\\
0 -9\\ 8 -21\\ 9 -17\\ 10 -16\\ 14 -32\\ 15 -28\\ 16 -25\\ 17 -23\\ 18 -21\\ 19 -19\\ 20 -15\\ 21 -12\\ 22 -8\\ 23 -5\\ 43 -12\\ 47 -17.5\\ 48 -9\\ 49 -8\\ 50 -8\\ 51 -7.5\\ 52 -7\\ 55 -7\\ 56 -6\\ 57 -5\\ 58 -5\\ 59 -3\\ 69 -24\\ 70 -24\\ 71 -22\\ 72 -20\\ 73 -17.5\\ 74 -15\\ 75 -12\\ 108 -3\\ 109 -3\\ 139 -44\\ 141 -43\\ 142 -42\\ 144 -30\\ 145 -23\\ 147 -30\\ 148 -30\\ 151 -46\\ 152 -45\\ 156 -51\\ 157 -44\\ 158 -40\\ 159 -38\\ 160 -36.5\\ 161 -35\\ 162 -32\\ 163 -30\\ 164 -25\\ 165 -19\\ 166 -12\\ 167 -5\\ 168 -2.5\\
}\tHd
\pgfplotstableread[row sep=\\]{d y\\
-7.2 72\\ -5.1 74\\ -4 74\\ -2.1 62.5\\ 0 60\\ 2.9 50\\ 4.9 41\\ 7.6 23\\ 9.9 20\\ 11.8 2\\ 13.7 -27.5\\ 16 -32\\ 19.1 -40\\ 20.6 -43\\ 22.2 -38\\ 25.3 -19\\ 28.3 -2.5\\ 31.4 14\\ 35.3 26\\ 37.2 26\\ 39.1 14\\ 41.4 5\\ 43.7 -5\\ 46.8 -19\\ 49.9 -19\\ 53.7 -27.5\\ 57.6 -23\\ 62.2 -19\\ 63.7 -30\\ 66 -57\\ 69.1 -72\\ 72.2 -78\\ 74.9 -77\\ 76.8 -63\\ 81.4 -36\\ 84.1 -24\\ 86 -32\\ 88.3 -33\\ 91 -27.5\\ 93.7 -2.5\\ 96 14\\ 98.3 24\\ 100.3 27.5\\ 103.9 28\\ 107 18\\ 110.1 20\\ 114 43\\ 116.3 81\\ 120.1 106\\ 123.2 178\\ 125.1 193\\ 127 212.5\\ 130.9 197\\ 133.2 185\\ 136.3 135\\ 139.3 95\\ 143.2 58\\ 145.1 64\\ 146.3 47.5\\ 148.6 35\\ 150.1 2\\ 154.7 -57\\ 159.3 -94\\ 163.9 -117.5\\ 167 -102.5\\ 170.1 -97\\ 174 -72\\ 177 -15\\ 180.1 12\\ 184.3 27\\ 187 64\\ 190.9 82.5\\ 193.2 78\\ 195.1 83\\ 197 78\\ 199 52\\ 202.2 25\\
}\tMacd
\pgfplotstableread[row sep=\\]{d y\\
-7.2 72\\ -3.2 72.5\\ 0.6 67\\ 4.5 52\\ 8.3 35\\ 11 27\\ 14.5 0\\ 17.6 -19\\ 21.4 -32\\ 24.5 -30\\ 28.3 -15\\ 32.2 2\\ 36 14\\ 37.9 17\\ 40.6 12\\ 44.5 0\\ 48.3 -11\\ 54.5 -21\\ 59.1 -23\\ 62.2 -20\\ 65.3 -32\\ 69.1 -51\\ 73.7 -69\\ 75.6 -70\\ 79.1 -61\\ 83.7 -44\\ 86.8 -37.5\\ 91 -33\\ 94.5 -19\\ 98.3 2\\ 100.1 14\\ 106.2 21\\ 110.1 21\\ 114 35\\ 120.1 81\\ 124 139\\ 127 172.5\\ 130.9 187.5\\ 133.2 188\\ 136.3 168\\ 143.2 97.5\\ 149.3 56\\ 154.7 -7\\ 159.3 -61\\ 163.9 -94\\ 167 -102.5\\ 170.9 -97\\ 174 -88\\ 177.8 -44\\ 181.7 -11\\ 186.3 22.5\\ 190.9 58\\ 194.7 71\\ 197.8 72.5\\ 202.2 52\\
}\tSignal
\pgfplotsset{
  panel/.style={scale only axis, width=1126.3pt, xmin=-7.29, xmax=294.4,
    axis line style={draw=cFrame, line width=.8pt},
    tick style={draw=cFrame, line width=.4pt},
    major tick length=2.5pt, tick align=outside,
    tick label style={font=\fontsize{6.1}{7}\selectfont, text=cTxt},
    xtick=\empty, clip=true,
    anchor=south west},
  yright/.style={ytick pos=right, yticklabel pos=right},
  yleft/.style={ytick pos=left, yticklabel pos=left},
  wick/.style={only marks, mark=*, mark size=0pt, mark options={draw=none, fill=none}, forget plot, error bars/.cd, y dir=minus, y explicit, error mark=none, error bar style={color=#1, line width=.5pt}},
  body/.style={only marks, mark=*, mark size=0pt, mark options={draw=none, fill=none}, forget plot, error bars/.cd, y dir=minus, y explicit, error mark=none, error bar style={color=#1, line width=2.5pt}},
  dashl/.style={black, line width=1pt, dash pattern=on 5.4pt off 5.4pt},
}
\begin{document}
\begin{tikzpicture}
\path[use as bounding box] (0,0) rectangle (1205.5pt,627pt);
% main panel
\begin{axis}[panel, yright, at={(39.2pt,343.25pt)}, height=261.45pt, ymode=log, ymin=1612.6, ymax=3037,
  ytick={3000,2800,2700,2600,2500,2400,2200,2100,2000,1900,1820,1740,1670},
  yticklabels={0.03000,0.02800,0.02700,0.02600,0.02500,0.02400,0.02200,0.02100,0.02000,0.01900,0.01820,0.01740,0.01670},
  yminorticks=false]
% zones
\addplot[fill=cZoneR, draw=none, forget plot] coordinates {(-7.29,2772)(294.4,2772)(294.4,2814)(-7.29,2814)} --cycle;
\addplot[cGreen!85!black, line width=.8pt, forget plot, opacity=.75] coordinates {(-7.29,2772)(294.4,2772)};
\addplot[cGreen!85!black, line width=.8pt, forget plot, opacity=.75] coordinates {(-7.29,2814)(294.4,2814)};
\addplot[fill=cZoneG, draw=cZoneGE, line width=.9pt, forget plot] coordinates {(-7.29,1600)(258.9,1600)(258.9,1726)(-7.29,1726)} --cycle;
\addplot[fill=cGreen, fill opacity=.2, draw=none, forget plot] coordinates {(-7.29,1793)(124.8,2806)(36.8,3037)(-7.29,3037)} --cycle;
\addplot[black!30, line width=.9pt, opacity=.8, forget plot] coordinates {(-7.29,1793)(124.8,2806)};
% watermark
\node[anchor=west, text=cWM, font=\fontsize{48.6}{50}\selectfont, inner sep=0pt] at (axis cs:110.5,2262) {ETHBTC, 1D};
\node[anchor=west, text=cWM, font=\fontsize{24}{26}\selectfont, inner sep=0pt] at (axis cs:116.5,2078) {Ethereum / Bitcoin};
% head and shoulders pattern
\addplot[fill=black!40, fill opacity=.2, draw=black!32, line width=.7pt, forget plot] coordinates {(128.3,2799)(137,2446)(144.9,2749)(163.8,2032)(196.1,2601)(204,2295)(230.4,2508)} --cycle;
\addplot[black!15, line width=.9pt, forget plot] coordinates {(127,2762)(163.7,2025)(174.8,2099)(207,2331)(233.1,2537)};
% candles
\addplot[wick=cUp] table[x=d,y=h,y error minus expr=\thisrow{h}-\thisrow{l}] {\tUp};
\addplot[body=cUp] table[x=d,y=c,y error minus expr=\thisrow{c}-\thisrow{o}] {\tUp};
\addplot[wick=cDn] table[x=d,y=h,y error minus expr=\thisrow{h}-\thisrow{l}] {\tDn};
\addplot[body=cDn] table[x=d,y=o,y error minus expr=\thisrow{o}-\thisrow{c}] {\tDn};
% fib levels
\addplot[black, line width=.55pt, forget plot] coordinates {(176,2849)(248.9,2849)};
\addplot[black, line width=.55pt, forget plot] coordinates {(176,2580)(248.9,2580)};
\addplot[black, line width=.55pt, forget plot] coordinates {(176,2411)(248.9,2411)};
\addplot[black, line width=.55pt, forget plot] coordinates {(176,2278)(248.9,2278)};
\addplot[black, line width=.55pt, forget plot] coordinates {(176,2144)(248.9,2144)};
\addplot[black, line width=.55pt, forget plot] coordinates {(176,1951)(248.9,1951)};
\addplot[black, line width=.55pt, forget plot] coordinates {(176,1709)(248.9,1709)};
\addplot[black, line width=.55pt, forget plot] coordinates {(253,2574)(294.4,2574)};
% ribbon
\addplot[fill=cRib, fill opacity=.6, draw=none, forget plot] table[x=d,y=y] {\tRibbon} --cycle;
\addplot[cDark, line width=.95pt, opacity=.95, forget plot] table[x=d,y=y] {\tEmaLong};
\addplot[cGreen, line width=.85pt, forget plot] table[x=d,y=y] {\tEmaFast};
\addplot[cOrange, line width=.85pt, forget plot] table[x=d,y=y] {\tEmaSlow};
% trend lines
\addplot[black!12, line width=1.4pt, forget plot] coordinates {(36.8,3044)(294.4,2404)};
\addplot[cBlueLn, line width=.7pt, forget plot] coordinates {(36.8,3037)(294.4,2394)};
\addplot[black, line width=1.1pt, forget plot] coordinates {(-7.29,1638)(294.4,1971)};
\addplot[dashl, forget plot] coordinates {(-7.29,2333)(126.9,1904)};
\addplot[dashl, forget plot] coordinates {(78.2,1709)(262.8,2488)};
\addplot[dashl, forget plot] coordinates {(131,2466)(219.3,2271)};
\addplot[cDot, line width=.5pt, dash pattern=on 1pt off 1pt, forget plot] coordinates {(-7.29,2362)(294.4,2362)};
% SAR
\addplot[only marks, mark=+, mark size=1.35pt, mark options={color=cUp, line width=.8pt}, forget plot] table[x=d,y=y] {\tSar};
\node[rotate=-8, text=black!85, font=\fontsize{7}{8}\selectfont] at (axis cs:12.0,2292) {trend line};
\end{axis}
% RSI
\begin{axis}[panel, yleft, at={(39.2pt,195.35pt)}, height=147.9pt, ymin=12.62, ymax=99.83,
  ytick={20,30,40,50,60,70,80,90}, yticklabels={20.00000,30.00000,40.00000,50.00000,60.00000,70.00000,80.00000,90.00000}]
\addplot[cRsiR, line width=1.5pt, opacity=.8, forget plot] coordinates {(-7.29,60)(294.4,60)};
\addplot[cRsiG, line width=1.5pt, opacity=.65, forget plot] coordinates {(-7.29,40)(294.4,40)};
\addplot[cRsiP, line width=.5pt, dash pattern=on 2pt off 1.4pt, forget plot] coordinates {(-7.29,70)(294.4,70)};
\addplot[cRsiP, line width=.5pt, dash pattern=on 2pt off 1.4pt, forget plot] coordinates {(-7.29,30)(294.4,30)};
\addplot[black, line width=.7pt, forget plot] table[x=d,y=y] {\tRsi};
\addplot[black, line width=1pt, dash pattern=on 4pt off 3.5pt, forget plot] coordinates {(115.9,94.6)(222.5,58.07)};
\addplot[black, line width=1pt, dash pattern=on 4pt off 3.5pt, forget plot] coordinates {(71,19.3)(224.4,42.6)};
\end{axis}
% WT
\begin{axis}[panel, yleft, at={(39.2pt,114.5pt)}, height=80.85pt, ymin=-29.8, ymax=129.2,
  ytick={0,40,80,120}, yticklabels={0.00000,40.00000,80.00000,120.00000}]
\addplot[fill=cAmber, fill opacity=.95, draw=orange!60, line width=.3pt, forget plot] table[x=d,y=y] {\tArea} --cycle;
\addplot[black!25, line width=.8pt, forget plot] coordinates {(-7.29,50.3)(294.4,50.3)};
\addplot[red!85!black, line width=.5pt, densely dotted, forget plot] coordinates {(-7.29,80.7)(294.4,80.7)};
\addplot[orange!90!black, line width=.45pt, densely dotted, forget plot] coordinates {(-7.29,70)(294.4,70)};
\addplot[green!40!black, line width=.5pt, densely dotted, forget plot] coordinates {(-7.29,56)(294.4,56)};
\addplot[red!85!black, line width=.5pt, densely dotted, forget plot] coordinates {(-7.29,44.6)(294.4,44.6)};
\addplot[orange!90!black, line width=.45pt, densely dotted, forget plot] coordinates {(-7.29,30.8)(294.4,30.8)};
\addplot[green!40!black, line width=.5pt, densely dotted, forget plot] coordinates {(-7.29,20.7)(294.4,20.7)};
\addplot[cGreen!90!black, line width=.3pt, forget plot] table[x=d,y=y] {\tThinG};
\addplot[red!70!white, line width=.3pt, forget plot] table[x=d,y=y] {\tThinR};
\addplot[cWtG, line width=1.3pt, opacity=.85, forget plot] table[x=d,y=y] {\tWtFast};
\addplot[cWtR, line width=1.5pt, opacity=.85, forget plot] table[x=d,y=y] {\tWtSlow};
\addplot[only marks, mark=*, mark size=1.5pt, mark options={draw=none, fill=black!75, fill opacity=.85}, forget plot] table[x=d,y=y] {\tDots};
\end{axis}
\begin{axis}[panel, at={(39.2pt,114.5pt)}, height=80.85pt, ymin=-92.4, ymax=107.7,
  ytick={-80,-40,0,40,80}, yticklabels={$-$80.00000,$-$40.00000,0.00000,40.00000,80.00000}, axis x line=none, axis y line*=right]
\addplot[draw=none, forget plot] coordinates {(0,0)};
\end{axis}
% MACD
\begin{axis}[panel, yright, at={(39.2pt,32.85pt)}, height=81.65pt, ymin=-153.25, ymax=255,
  ytick={-100,0,100,200}, yticklabels={$-$0.00100,0.00000,0.00100,0.00200},
  xtick={0,18,35,48,63,79,91,110,126,139,154,170,182,200,217,231,245,261,273,292},
  xticklabels={14,Nov,18,Dec,16,\textbf{2020},13,Feb,17,Mar,16,Apr,13,May,18,Jun,15,Jul,13,Aug},
  xtick pos=bottom, xticklabel pos=bottom, xticklabel style={yshift=-1.5pt, font=\fontsize{6.3}{7}\selectfont}]
\addplot[ycomb, cTeal, line width=3.1pt, forget plot] table[x=d,y=y] {\tHa};
\addplot[ycomb, cLTeal, line width=3.1pt, forget plot] table[x=d,y=y] {\tHb};
\addplot[ycomb, cDn, line width=3.1pt, forget plot] table[x=d,y=y] {\tHc};
\addplot[ycomb, cPink, line width=3.1pt, forget plot] table[x=d,y=y] {\tHd};
\addplot[cUp, line width=.5pt, forget plot] table[x=d,y=y] {\tMacd};
\addplot[cSig, line width=.5pt, forget plot] table[x=d,y=y] {\tSignal};
\end{axis}
% chrome, in reference pixels
\begin{scope}[shift={(0pt,627pt)}, x=.5pt, y=-.5pt]
\draw[cFrame, line width=.8pt] (6,44.6) rectangle (2403,1217.3);
\draw[cFrame, line width=.8pt] (6,567.5)--(2403,567.5) (6,863.3)--(2403,863.3) (6,1025)--(2403,1025) (6,1188.3)--(2403,1188.3);
\draw[cFrame, line width=.8pt] (78.4,44.6)--(78.4,1217.3) (2331,44.6)--(2331,1217.3);
% header
\node[anchor=west, inner sep=0pt, font=\fontsize{7.1}{8}\selectfont, text=black!80] at (6,12.7) {\textbf{ssari} published on TradingView.com, May 04, 2020 02:11:51 AEST};
\node[anchor=west, inner sep=0pt, font=\fontsize{7.1}{8}\selectfont, text=black!80] at (6,29.8) {\textbf{COINBASE:ETHBTC, 1D}\ \ 0.02362 \textcolor{cDn}{{\dejavu\fontsize{6}{7}\selectfont ▼}} $-$0.00023 ($-$0.96\%) \textbf{O:}\textcolor{cDn}{0.02385} \textbf{H:}\textcolor{cDn}{0.02401} \textbf{L:}\textcolor{cDn}{0.02347} \textbf{C:}\textcolor{cDn}{0.02362}};
% legends
\node[anchor=west, inner sep=0pt, font=\fontsize{6.5}{8}\selectfont, text=cTxt] at (87,60.7) {\textbf{Ethereum / Bitcoin, 1D, COINBASE}};
\node[anchor=west, inner sep=0pt, font=\fontsize{6.5}{8}\selectfont, text=cTxt] at (87,77.5) {EMAx2 Ribbon (10, 21, 200)};
\node[anchor=west, inner sep=0pt, font=\fontsize{6.5}{8}\selectfont, text=cTxt] at (87,94.5) {Lucid SAR (0.02, 0.02, 0.2)};
\node[anchor=west, inner sep=0pt, font=\fontsize{6.5}{8}\selectfont, text=cTxt] at (87,585.7) {RSI (30, 70, 30, 5, 14, 13, 33, 40, 60)};
\node[anchor=west, inner sep=0pt, font=\fontsize{6.5}{8}\selectfont, text=cTxt] at (87,880.7) {WT (10, 21, 60, 53, -60, -53)};
\node[anchor=west, inner sep=0pt, font=\fontsize{6.5}{8}\selectfont, text=cTxt] at (87,897.7) {Phoeix 1.119 - BTCUSD (9, 6, 3, 32, 0)};
\node[anchor=west, inner sep=0pt, font=\fontsize{6.5}{8}\selectfont, text=cTxt] at (87,1042.7) {MACD (0, 0, 12, 26, 100)};
% fib labels
\foreach \yy/\ttt in {97.3/0,179.3/0.236,235.3/0.382,282.3/0.5,332.3/0.618,410.3/0.786,520.3/1}
  \node[anchor=west, inner sep=0pt, font=\fontsize{6.2}{7}\selectfont, text=black!70] at (1995,\yy) {\ttt};
% pattern labels
\tikzset{pl/.style={fill=black!22, fill opacity=.85, text opacity=1, text=white, rounded corners=1.5pt, inner xsep=2.5pt, inner ysep=1.5pt, font=\fontsize{6}{7}\selectfont}}
\node[pl] at (1155.7,237) {Left Shoulder};
\node[pl] at (1350,393) {Right Shoulder};
\node[pl] at (1357,389) {Head};
\node[pl] at (1655,289) {Right Shoulder};
% last price
\fill[cDn] (2331.5,243) rectangle (2390,261.7);
\fill[cDn] (2331.5,262.7) rectangle (2390,281.7);
\node[text=white, inner sep=0pt, font=\fontsize{6.2}{7}\selectfont\bfseries] at (2361,252.3) {0.02362};
\node[text=white, inner sep=0pt, font=\fontsize{6.2}{7}\selectfont] at (2361,272.2) {07:48:09};
% corner buttons
\fill[black!7] (43,1203) circle (6.5pt);
\node[text=cTxt, inner sep=0pt, font=\fontsize{6.2}{7}\selectfont] at (43,1203) {Z};
\fill[black!7] (2368,1203) circle (6.5pt);
\node[text=cTxt, inner sep=0pt, font=\fontsize{6.2}{7}\selectfont] at (2368,1203) {A};
% logo
\fill[cUp] (6,1244) -- (6,1236) .. controls (8,1230) and (12,1228) .. (18,1227) .. controls (24,1228) and (28,1230) .. (31,1236) -- (31,1244) -- cycle;
\draw[white, line width=.8pt, line join=round] (8,1241) -- (14,1233) -- (20,1241) -- (26,1233);
\node[anchor=west, inner sep=0pt, font=\fontsize{7}{8}\selectfont, text=black!80] at (34,1236) {TradingView};
\end{scope}
\end{tikzpicture}
\end{document}
